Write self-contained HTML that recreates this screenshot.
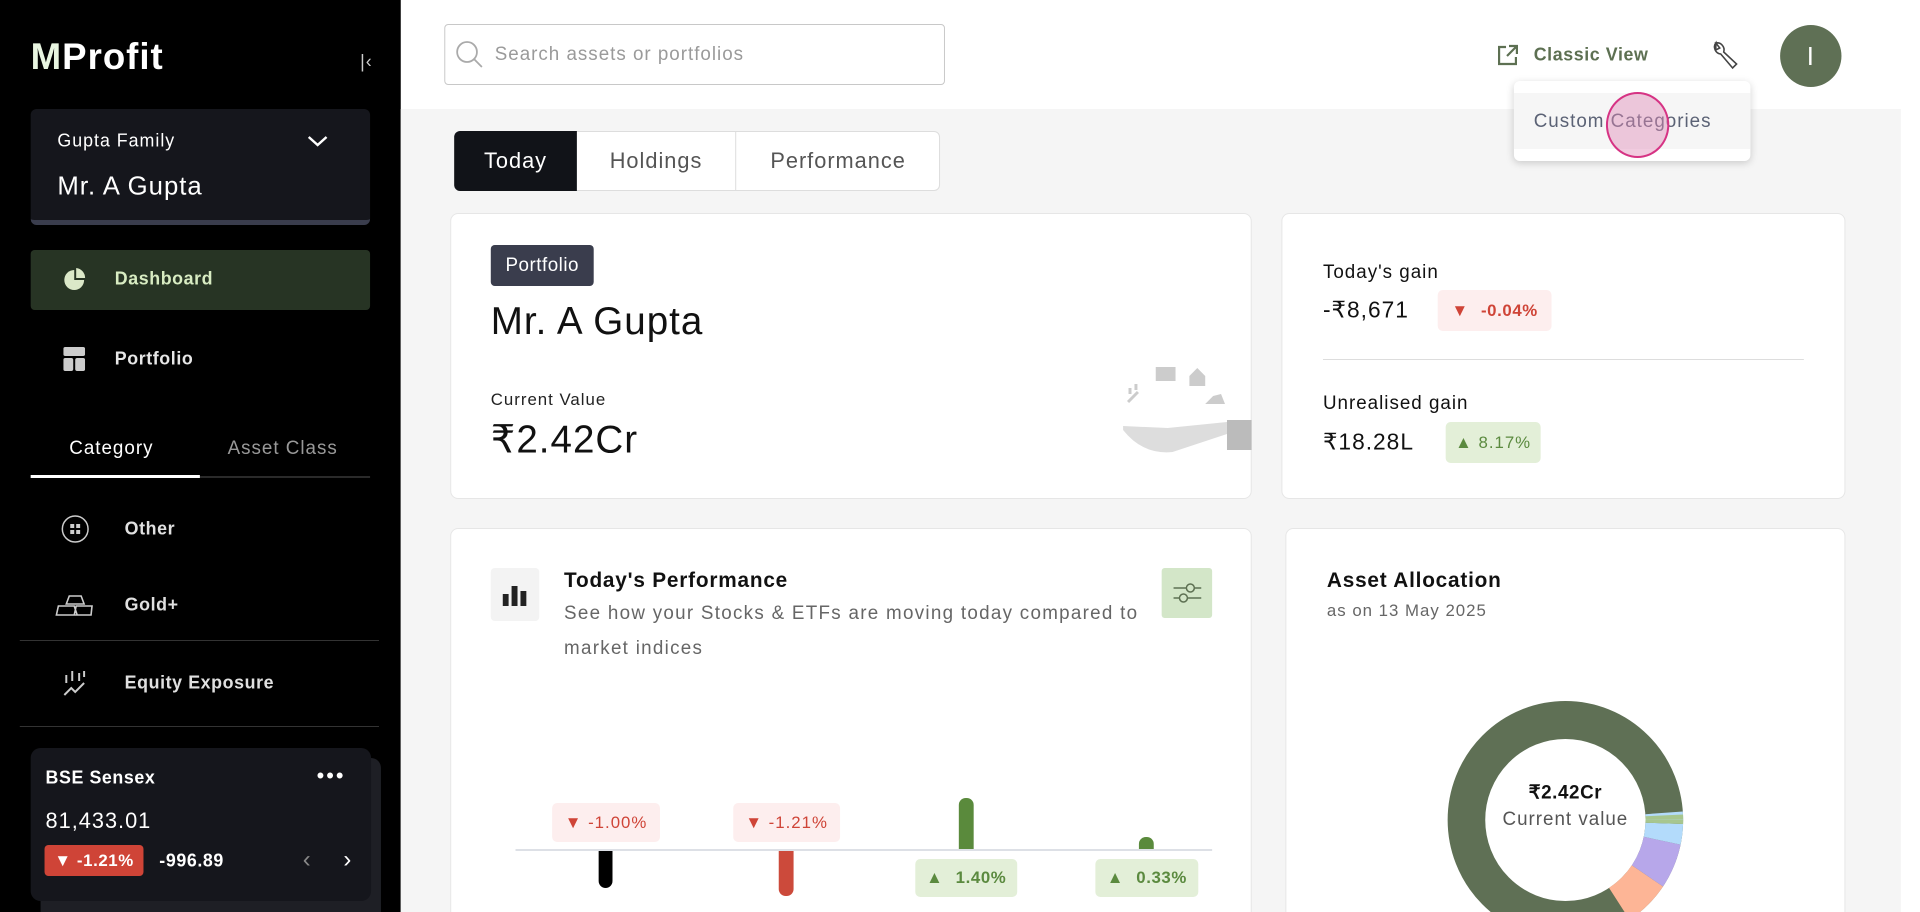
<!DOCTYPE html>
<html><head><meta charset="utf-8"><style>
*{box-sizing:border-box;margin:0;padding:0}
html,body{width:1920px;height:912px;overflow:hidden}
body{font-family:"Liberation Sans",sans-serif;background:#fff}
#root{position:relative;width:1920px;height:912px;overflow:hidden}
#sc{position:absolute;left:0;top:0;width:1941px;height:912px;transform:scaleX(0.9895);transform-origin:0 0;letter-spacing:1px}
#sc b,.bd{letter-spacing:0.6px}
.a{position:absolute}
.sb{left:0;top:0;width:405px;height:912px;background:#000}
.w{color:#fff}
.main{left:405px;top:109px;width:1536px;height:803px;background:#f5f5f5}
.card{background:#fff;border:1px solid #e6e6e6;border-radius:8px}
.badge{border-radius:5px;font-size:17px;display:flex;align-items:center;justify-content:center;gap:12px}
.red{background:#fdeeee;color:#cf4437}
.grn{background:#e3efd8;color:#5b8a3f}
.vc{transform:translateY(-50%)}
</style></head><body><div id="root"><div id="sc">
<div class="a sb"></div>
<div class="a w vc bd" style="left:31px;top:57px;font-size:37px;font-weight:bold;letter-spacing:1px"><span style="color:#e8f5e0">M</span>Profit</div>
<div class="a vc" style="left:364px;top:62px;color:#ccc;font-size:18px">|&lsaquo;</div>
<div class="a" style="left:31px;top:109px;width:343px;height:116px;background:#15161c;border-radius:6px;border-bottom:5px solid #3a3d4d"></div>
<div class="a w vc" style="left:58px;top:141px;font-size:18px">Gupta Family</div>
<div class="a w vc" style="left:58px;top:186px;font-size:26px">Mr. A Gupta</div>
<svg class="a" style="left:310px;top:134px" width="22" height="14"><path d="M2 3l9 8 9-8" stroke="#fff" stroke-width="2.5" fill="none"/></svg>
<div class="a" style="left:31px;top:250px;width:343px;height:60px;background:#273424;border-radius:4px"></div>
<svg class="a" style="left:63px;top:267px" width="24" height="24"><circle cx="12" cy="13" r="10" fill="#dbe8c8"/><path d="M12 13V2a11 11 0 0 1 11 11z" fill="#273424"/><path d="M14 11V1a10 10 0 0 1 9 10z" fill="#dbe8c8"/></svg>
<div class="a vc bd" style="left:116px;top:279px;font-size:18px;font-weight:bold;color:#d8ecc2">Dashboard</div>
<svg class="a" style="left:64px;top:347px" width="22" height="24"><rect x="0" y="0" width="22" height="9" rx="2" fill="#ccc"/><rect x="0" y="11" width="10" height="13" rx="2" fill="#ccc"/><rect x="12" y="11" width="10" height="13" rx="2" fill="#ccc"/></svg>
<div class="a w vc bd" style="left:116px;top:359px;font-size:18px;font-weight:bold;color:#e6e6e6">Portfolio</div>
<div class="a w vc" style="left:70px;top:449px;font-size:19px">Category</div>
<div class="a vc" style="left:230px;top:449px;font-size:19px;color:#999">Asset Class</div>
<div class="a" style="left:31px;top:476px;width:343px;height:2px;background:#2a2a2a"></div>
<div class="a" style="left:31px;top:475px;width:171px;height:3px;background:#fff"></div>
<svg class="a" style="left:61px;top:514px" width="30" height="30"><circle cx="15" cy="15" r="13" stroke="#ccc" stroke-width="1.5" fill="none"/><rect x="10" y="10" width="4" height="4" fill="#ccc"/><rect x="16" y="10" width="4" height="4" fill="#ccc"/><rect x="10" y="16" width="4" height="4" fill="#ccc"/><rect x="16" y="16" width="4" height="4" fill="#ccc"/></svg>
<div class="a vc bd" style="left:126px;top:529px;font-size:18px;font-weight:bold;color:#e0e0e0">Other</div>
<svg class="a" style="left:56px;top:594px" width="38" height="22"><path d="M14 2h12l3 8H11zM3 12h16l3 9H1zM21 12h16l-1 9H19z" stroke="#ccc" stroke-width="1.6" fill="none"/></svg>
<div class="a vc bd" style="left:126px;top:605px;font-size:18px;font-weight:bold;color:#e0e0e0">Gold+</div>
<div class="a" style="left:20px;top:640px;width:363px;height:1px;background:#333"></div>
<svg class="a" style="left:63px;top:669px" width="26" height="28"><path d="M4 6v8M10 2v10M17 4v8M22 2v6M2 26l7-7 4 4 9-9" stroke="#ccc" stroke-width="2" fill="none"/></svg>
<div class="a vc bd" style="left:126px;top:683px;font-size:18px;font-weight:bold;color:#e0e0e0">Equity Exposure</div>
<div class="a" style="left:20px;top:726px;width:363px;height:1px;background:#333"></div>
<div class="a" style="left:41px;top:758px;width:344px;height:170px;background:#1e1f25;border-radius:10px"></div>
<div class="a" style="left:31px;top:748px;width:344px;height:153px;background:#15161c;border-radius:10px"></div>
<div class="a w vc bd" style="left:46px;top:778px;font-size:18px;font-weight:bold">BSE Sensex</div>
<div class="a w vc" style="left:320px;top:776px;font-size:22px;letter-spacing:2px">&bull;&bull;&bull;</div>
<div class="a w vc" style="left:46px;top:821px;font-size:22px">81,433.01</div>
<div class="a bd" style="left:45px;top:845px;width:100px;height:31px;background:#cf4437;border-radius:4px;color:#fff;font-size:17px;font-weight:bold;padding:6px 0 0 10px">&#9660; -1.21%</div>
<div class="a w vc bd" style="left:161px;top:861px;font-size:18px;font-weight:bold">-996.89</div>
<div class="a vc" style="left:306px;top:860px;color:#888;font-size:24px">&lsaquo;</div>
<div class="a vc" style="left:347px;top:860px;color:#fff;font-size:24px">&rsaquo;</div>

<div class="a main"></div>
<div class="a" style="left:1921px;top:109px;width:20px;height:803px;background:#fff"></div>
<div class="a" style="left:449px;top:24px;width:506px;height:61px;border:1px solid #c8c8c8;border-radius:4px;background:#fff"></div>
<svg class="a" style="left:460px;top:40px" width="30" height="30"><circle cx="12" cy="12" r="10" stroke="#aaa" stroke-width="1.8" fill="none"/><path d="M19 19l8 8" stroke="#aaa" stroke-width="1.8"/></svg>
<div class="a vc" style="left:500px;top:55px;font-size:19px;color:#9a9a9a">Search assets or portfolios</div>
<svg class="a" style="left:1512px;top:43px" width="24" height="24"><path d="M10 4H3v17h17v-7M13 3h8v8M21 3L11 13" stroke="#5d7052" stroke-width="2.2" fill="none"/></svg>
<div class="a vc bd" style="left:1550px;top:55px;font-size:18px;font-weight:bold;color:#5d7052">Classic View</div>
<svg class="a" style="left:1728px;top:39px" width="30" height="32"><path d="M6 4a7 7 0 0 0 5 11l12 14 4-4-13-12A7 7 0 0 0 6 4l4 5-4 2z" stroke="#444" stroke-width="1.6" fill="none"/></svg>
<div class="a" style="left:1799px;top:25px;width:62px;height:62px;border-radius:50%;background:#5f7055;color:#fff;font-size:26px;text-align:center;line-height:62px">I</div>
<div class="a" style="left:1530px;top:81px;width:239px;height:80px;background:#fff;border-radius:6px;box-shadow:0 2px 8px rgba(0,0,0,.18)"></div>
<div class="a" style="left:1530px;top:93px;width:239px;height:56px;background:#f6f6f6"></div>
<div class="a vc" style="left:1550px;top:122px;font-size:19px;color:#5b6275">Custom Categories</div>
<div class="a" style="left:1623px;top:92px;width:64px;height:66px;border-radius:50%;background:rgba(225,140,185,.45);border:2px solid #d63384"></div>

<div class="a" style="left:459px;top:131px;width:491px;height:60px;background:#fff;border:1px solid #ddd;border-radius:6px"></div>
<div class="a" style="left:459px;top:131px;width:124px;height:60px;background:#111318;border-radius:6px 0 0 6px;color:#fff;font-size:22px;text-align:center;line-height:60px">Today</div>
<div class="a" style="left:583px;top:131px;width:161px;height:60px;border-right:1px solid #ddd;color:#555;font-size:22px;text-align:center;line-height:60px">Holdings</div>
<div class="a" style="left:744px;top:131px;width:206px;height:60px;color:#555;font-size:22px;text-align:center;line-height:60px">Performance</div>

<div class="a card" style="left:455px;top:213px;width:810px;height:286px"></div>
<div class="a" style="left:496px;top:245px;width:104px;height:41px;background:#3a3d4d;border-radius:4px;color:#fff;font-size:19px;text-align:center;line-height:41px;letter-spacing:0.5px">Portfolio</div>
<div class="a vc" style="left:496px;top:322px;font-size:39px;color:#111">Mr. A Gupta</div>
<div class="a vc" style="left:496px;top:400px;font-size:17px;color:#222">Current Value</div>
<div class="a vc" style="left:496px;top:440px;font-size:39px;color:#111">&#8377;2.42Cr</div>
<svg class="a" style="left:1130px;top:362px" width="135" height="105"><rect x="38" y="5" width="20" height="14" fill="#ccc"/><path d="M72 14l8-8 8 8v10H72z" fill="#ccc"/><path d="M88 42h20l-4-10-8 2z" fill="#ccc"/><path d="M10 40l10-10M12 32v-6M18 28v-6" stroke="#ccc" stroke-width="3"/><path d="M5 68q20 25 50 22l55-18V60l-60 6-45-2z" fill="#ddd"/><rect x="110" y="58" width="25" height="30" fill="#bbb"/></svg>

<div class="a card" style="left:1295px;top:213px;width:570px;height:286px"></div>
<div class="a vc" style="left:1337px;top:273px;font-size:19px;color:#111">Today's gain</div>
<div class="a vc" style="left:1337px;top:310px;font-size:23px;color:#111">-&#8377;8,671</div>
<div class="a badge red" style="left:1453px;top:290px;width:115px;height:41px">&#9660; <b>-0.04%</b></div>
<div class="a" style="left:1337px;top:359px;width:486px;height:1px;background:#ddd"></div>
<div class="a vc" style="left:1337px;top:404px;font-size:19px;color:#111">Unrealised gain</div>
<div class="a vc" style="left:1337px;top:442px;font-size:23px;color:#111">&#8377;18.28L</div>
<div class="a badge grn" style="left:1461px;top:422px;width:96px;height:41px">&#9650; 8.17%</div>

<div class="a card" style="left:455px;top:528px;width:810px;height:400px"></div>
<div class="a" style="left:496px;top:568px;width:49px;height:53px;background:#f3f3f3;border-radius:4px"></div>
<svg class="a" style="left:508px;top:584px" width="24" height="22"><rect x="0" y="10" width="6" height="12" fill="#222"/><rect x="9" y="2" width="6" height="20" fill="#222"/><rect x="18" y="7" width="6" height="15" fill="#222"/></svg>
<div class="a vc" style="left:570px;top:581px;font-size:21px;font-weight:bold;color:#111;letter-spacing:0.8px">Today's Performance</div>
<div class="a vc" style="left:570px;top:614px;font-size:19px;color:#666;letter-spacing:1.3px">See how your Stocks &amp; ETFs are moving today compared to</div>
<div class="a vc" style="left:570px;top:649px;font-size:19px;color:#666;letter-spacing:1.3px">market indices</div>
<div class="a" style="left:1174px;top:568px;width:51px;height:50px;background:#d3e6c8;border-radius:3px"></div>
<svg class="a" style="left:1185px;top:578px" width="30" height="30"><path d="M1 10h28M1 20h28" stroke="#5d7052" stroke-width="1.5"/><circle cx="18" cy="10" r="4" fill="#d3e6c8" stroke="#5d7052" stroke-width="1.5"/><circle cx="11" cy="20" r="4" fill="#d3e6c8" stroke="#5d7052" stroke-width="1.5"/></svg>
<div class="a" style="left:521px;top:849px;width:704px;height:2px;background:#dde0e6"></div>
<div class="a" style="left:605px;top:851px;width:14px;height:37px;background:#000;border-radius:0 0 7px 7px"></div>
<div class="a" style="left:787px;top:851px;width:15px;height:45px;background:#cc4a3b;border-radius:0 0 7px 7px"></div>
<div class="a" style="left:969px;top:798px;width:15px;height:51px;background:#5a8a3c;border-radius:7px 7px 0 0"></div>
<div class="a" style="left:1151px;top:837px;width:15px;height:12px;background:#5a8a3c;border-radius:7px 7px 0 0"></div>
<div class="a badge red" style="left:558px;top:803px;width:109px;height:39px">&#9660; -1.00%</div>
<div class="a badge red" style="left:741px;top:803px;width:108px;height:39px">&#9660; -1.21%</div>
<div class="a badge grn" style="left:925px;top:859px;width:103px;height:38px">&#9650; <b>1.40%</b></div>
<div class="a badge grn" style="left:1107px;top:859px;width:104px;height:38px">&#9650; <b>0.33%</b></div>

<div class="a card" style="left:1299px;top:528px;width:566px;height:400px"></div>
<div class="a vc" style="left:1341px;top:581px;font-size:21px;font-weight:bold;color:#111;letter-spacing:0.8px">Asset Allocation</div>
<div class="a vc" style="left:1341px;top:611px;font-size:17px;color:#666">as on 13 May 2025</div>
<svg class="a" style="left:1457px;top:695px" width="250" height="250" viewBox="-125 -125 250 250">
<g fill="none" stroke-width="38">
<circle r="100" stroke="#5f7055"/>
<circle r="100" stroke="#fdb596" stroke-dasharray="40.1 600" stroke-dashoffset="-59.3"/>
<circle r="100" stroke="#b7a7ea" stroke-dasharray="38.4 600" stroke-dashoffset="-20.9"/>
<circle r="100" stroke="#b3dbfb" stroke-dasharray="17.5 600" stroke-dashoffset="-3.4"/>
<circle r="100" stroke="#a7c68f" stroke-dasharray="4.5 620" stroke-dashoffset="1.1"/>
</g></svg>
<div class="a vc bd" style="left:1457px;top:793px;width:250px;text-align:center;font-size:19px;font-weight:bold;color:#111">&#8377;2.42Cr</div>
<div class="a vc" style="left:1457px;top:820px;width:250px;text-align:center;font-size:19px;color:#555">Current value</div>
</div></div></body></html>
